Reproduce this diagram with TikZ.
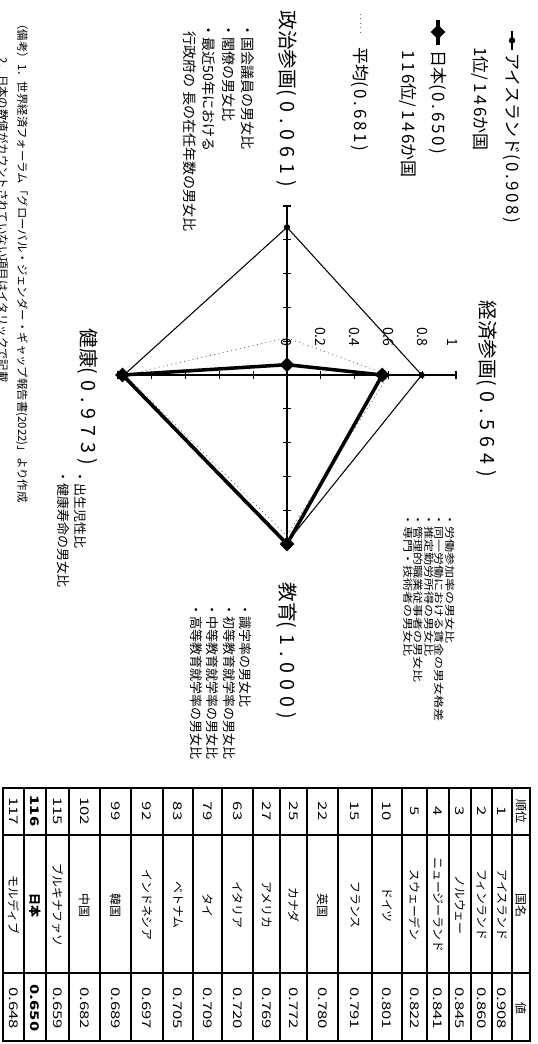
\documentclass[tikz,border=0pt]{standalone}
\usepackage{fontspec}
\setmainfont{Noto Sans CJK JP}
\newfontfamily\widefont[FakeStretch=1.3]{Noto Sans CJK JP}
\newfontfamily\numfont[FakeStretch=1.4]{Noto Sans CJK JP}
\newfontfamily\spacedfont[LetterSpace=30]{Noto Sans CJK JP}
\newfontfamily\legspaced[LetterSpace=15]{Noto Sans CJK JP}
\usetikzlibrary{shapes.geometric}
\newcommand{\rad}{169}
\newcommand{\fsz}[2]{\fontsize{#1}{#2}\selectfont}
\newcommand{\spc}[1]{{\spacedfont #1}}
\newcommand{\lsp}[1]{{\legspaced #1}}

\begin{document}
\begin{tikzpicture}[x=0.2mm,y=0.2mm,
  every node/.style={inner sep=0pt},
  axisline/.style={line width=0.9pt},
  tickmark/.style={line width=0.7pt},
  scalelbl/.style={anchor=east,font=\fsz{8}{9}},
  axlabel/.style={anchor=west,font=\fsz{11.2}{12}},
  legend/.style={anchor=west,font=\fsz{9.7}{11}},
  desc/.style={anchor=north west,align=left},
  isline/.style={line width=0.6pt},
  isdot/.style={circle,fill,minimum size=3.6pt},
  jpline/.style={line width=2pt,line join=miter},
  jpdia/.style={diamond,fill,minimum width=8.5pt,minimum height=8.5pt},
  avline/.style={line width=0.5pt,dotted,black!60},
  tabline/.style={line width=0.8pt},
  cell/.style={font=\fsz{6.8}{8}},
  num/.style={font=\numfont\fsz{6.8}{8}}]
\useasboundingbox (0,0) rectangle (538,-1044);
\begin{scope}[rotate=-90,transform shape]
%% radar chart
\begin{scope}[shift={(375,287)}]
\coordinate (O) at (0,0);
\coordinate (axE) at (0,\rad);
\coordinate (axD) at (\rad,0);
\coordinate (axH) at (0,-\rad);
\coordinate (axP) at (-\rad,0);
\draw[axisline] (axP) -- (axD);
\draw[axisline] (axH) -- (axE);
%% ticks
\draw[tickmark] (-4,33.8) -- (4,33.8) (-4,67.6) -- (4,67.6) (-4,101.4) -- (4,101.4) (-4,135.2) -- (4,135.2) (-4,169) -- (4,169);
\draw[tickmark] (-4,-33.8) -- (4,-33.8) (-4,-67.6) -- (4,-67.6) (-4,-101.4) -- (4,-101.4) (-4,-135.2) -- (4,-135.2) (-4,-169) -- (4,-169);
\draw[tickmark] (33.8,-4) -- (33.8,4) (67.6,-4) -- (67.6,4) (101.4,-4) -- (101.4,4) (135.2,-4) -- (135.2,4) (169,-4) -- (169,4);
\draw[tickmark] (-33.8,-4) -- (-33.8,4) (-67.6,-4) -- (-67.6,4) (-101.4,-4) -- (-101.4,4) (-135.2,-4) -- (-135.2,4) (-169,-4) -- (-169,4);
%% scale
\node[scalelbl] (s0) at (-28,0) {0};
\node[scalelbl] (s2) at (-28,33.8) {0.2};
\node[scalelbl] (s4) at (-28,67.6) {0.4};
\node[scalelbl] (s6) at (-28,101.4) {0.6};
\node[scalelbl] (s8) at (-28,135.2) {0.8};
\node[scalelbl] (s10) at (-28,166) {1};
%% average
\coordinate (avE) at (0,{0.601*\rad});
\coordinate (avD) at ({0.951*\rad},0);
\coordinate (avH) at (0,{-0.958*\rad});
\coordinate (avP) at ({-0.220*\rad},0);
\draw[avline] (avE) -- (avD) -- (avH) -- (avP) -- cycle;
%% iceland
\coordinate (isE) at (0,{0.797*\rad});
\coordinate (isD) at ({0.991*\rad},0);
\coordinate (isH) at (0,{-0.965*\rad});
\coordinate (isP) at ({-0.874*\rad},0);
\draw[isline] (isE) -- (isD) -- (isH) -- (isP) -- cycle;
\node[isdot] (isEd) at (isE) {};
\node[isdot] (isDd) at (isD) {};
\node[isdot] (isHd) at (isH) {};
\node[isdot] (isPd) at (isP) {};
%% japan
\coordinate (jpE) at (0,{0.564*\rad});
\coordinate (jpD) at ({1.000*\rad},0);
\coordinate (jpH) at (0,{-0.973*\rad});
\coordinate (jpP) at ({-0.061*\rad},0);
\draw[jpline] (jpE) -- (jpD) -- (jpH) -- (jpP) -- cycle;
\node[jpdia] (jpEd) at (jpE) {};
\node[jpdia] (jpDd) at (jpD) {};
\node[jpdia] (jpHd) at (jpH) {};
\node[jpdia] (jpPd) at (jpP) {};
\end{scope}
%% axis labels
\node[axlabel] (econ) at (300,487) {経済参画\spc{(0.564)}};
\node[axlabel] (educ) at (582,287) {教育\spc{(1.000)}};
\node[axlabel] (health) at (328,88) {健康\spc{(0.973)}};
\node[axlabel] (polit) at (10,287) {政治参画\spc{(0.061)}};
%% descriptions
\node[desc,font=\widefont\fsz{5.7}{6}] (econD) at (513,455)
{・労働参加率の男女比\\・同一労働における賃金の男女格差\\・推定勤労所得の男女比\\・管理的職業従事者の男女比\\・専門・技術者の男女比};
\node[desc,font=\fsz{7.4}{9.4}] (educD) at (603,252)
{・識字率の男女比\\・初等教育就学率の男女比\\・中等教育就学率の男女比\\・高等教育就学率の男女比};
\node[desc,font=\fsz{7.4}{9.7}] (healthD) at (470,87)
{・出生児性比\\・健康寿命の男女比};
\node[desc,font=\fsz{8}{11.1}] (politD) at (23,255)
{・国会議員の男女比\\・閣僚の男女比\\・最近50年における\\\hspace*{0.6em}行政府の 長の在任年数の男女比};
%% legend
\coordinate (lgIa) at (31,512);
\coordinate (lgIb) at (50,512);
\draw[isline] (lgIa) -- (lgIb);
\node[isdot] (lgId) at (40.5,512) {};
\node[legend] (lgI) at (53,512) {アイスランド\lsp{(0.908)}};
\node[legend] (lgIr) at (47,480) {\lsp{1}位\lsp{/146}か国};
\coordinate (lgJa) at (20,438);
\coordinate (lgJb) at (45,438);
\draw[jpline] (lgJa) -- (lgJb);
\node[jpdia] (lgJd) at (32,438) {};
\node[legend] (lgJ) at (50,438) {日本\lsp{(0.650)}};
\node[legend] (lgJr) at (50,408) {\lsp{116}位\lsp{/146}か国};
\coordinate (lgAa) at (14,360);
\coordinate (lgAb) at (34,360);
\draw[avline] (lgAa) -- (lgAb);
\node[legend] (lgA) at (47,360) {平均\lsp{(0.681)}};
%% notes
\node[anchor=west,font=\fsz{6.5}{7}] (note1) at (18,22)
{（備考）1．世界経済フォーラム「グローバル・ジェンダー・ギャップ報告書(2022)」より作成};
\node[anchor=west,font=\fsz{6.5}{7}] (note2) at (57,3)
{2．日本の数値がカウントされていない項目はイタリックで記載};
%% table
\draw[tabline] (788,3) rectangle (1041,530);
\draw[tabline] (835,3) -- (835,530) (973,3) -- (973,530);
\draw[tabline] (788,512) -- (1041,512) (788,492) -- (1041,492) (788,471) -- (1041,471)
 (788,449) -- (1041,449) (788,427) -- (1041,427) (788,402) -- (1041,402)
 (788,372) -- (1041,372) (788,338) -- (1041,338) (788,307) -- (1041,307)
 (788,280) -- (1041,280) (788,253) -- (1041,253) (788,222) -- (1041,222)
 (788,193) -- (1041,193) (788,163) -- (1041,163) (788,131) -- (1041,131)
 (788,100) -- (1041,100) (788,69) -- (1041,69) (788,46) -- (1041,46) (788,24) -- (1041,24);
\node[cell] (hRank) at (811,521) {順位}; \node[cell] (hName) at (905,521) {国名}; \node[cell] (hVal) at (1008,521) {値};
\node[num] (rk1) at (811,502) {1}; \node[cell] (nm1) at (905,502) {アイスランド}; \node[num] (vl1) at (1008,502) {0.908};
\node[num] (rk2) at (811,481.5) {2}; \node[cell] (nm2) at (905,481.5) {フィンランド}; \node[num] (vl2) at (1008,481.5) {0.860};
\node[num] (rk3) at (811,460) {3}; \node[cell] (nm3) at (905,460) {ノルウェー}; \node[num] (vl3) at (1008,460) {0.845};
\node[num] (rk4) at (811,438) {4}; \node[cell] (nm4) at (905,438) {ニュージーランド}; \node[num] (vl4) at (1008,438) {0.841};
\node[num] (rk5) at (811,414.5) {5}; \node[cell] (nm5) at (905,414.5) {スウェーデン}; \node[num] (vl5) at (1008,414.5) {0.822};
\node[num] (rk6) at (811,387) {10}; \node[cell] (nm6) at (905,387) {ドイツ}; \node[num] (vl6) at (1008,387) {0.801};
\node[num] (rk7) at (811,355) {15}; \node[cell] (nm7) at (905,355) {フランス}; \node[num] (vl7) at (1008,355) {0.791};
\node[num] (rk8) at (811,322.5) {22}; \node[cell] (nm8) at (905,322.5) {英国}; \node[num] (vl8) at (1008,322.5) {0.780};
\node[num] (rk9) at (811,293.5) {25}; \node[cell] (nm9) at (905,293.5) {カナダ}; \node[num] (vl9) at (1008,293.5) {0.772};
\node[num] (rk10) at (811,266.5) {27}; \node[cell] (nm10) at (905,266.5) {アメリカ}; \node[num] (vl10) at (1008,266.5) {0.769};
\node[num] (rk11) at (811,237.5) {63}; \node[cell] (nm11) at (905,237.5) {イタリア}; \node[num] (vl11) at (1008,237.5) {0.720};
\node[num] (rk12) at (811,207.5) {79}; \node[cell] (nm12) at (905,207.5) {タイ}; \node[num] (vl12) at (1008,207.5) {0.709};
\node[num] (rk13) at (811,178) {83}; \node[cell] (nm13) at (905,178) {ベトナム}; \node[num] (vl13) at (1008,178) {0.705};
\node[num] (rk14) at (811,147) {92}; \node[cell] (nm14) at (905,147) {インドネシア}; \node[num] (vl14) at (1008,147) {0.697};
\node[num] (rk15) at (811,115.5) {99}; \node[cell] (nm15) at (905,115.5) {韓国}; \node[num] (vl15) at (1008,115.5) {0.689};
\node[num] (rk16) at (811,84.5) {102}; \node[cell] (nm16) at (905,84.5) {中国}; \node[num] (vl16) at (1008,84.5) {0.682};
\node[num] (rk17) at (811,57.5) {115}; \node[cell] (nm17) at (905,57.5) {ブルキナファソ}; \node[num] (vl17) at (1008,57.5) {0.659};
\node[num,font=\numfont\bfseries\fsz{6.8}{8}] (rk18) at (811,35) {116}; \node[cell,font=\bfseries\fsz{6.8}{8}] (nm18) at (905,35) {日本}; \node[num,font=\numfont\bfseries\fsz{6.8}{8}] (vl18) at (1008,35) {0.650};
\node[num] (rk19) at (811,13.5) {117}; \node[cell] (nm19) at (905,13.5) {モルディブ}; \node[num] (vl19) at (1008,13.5) {0.648};
\end{scope}
\end{tikzpicture}
\end{document}
